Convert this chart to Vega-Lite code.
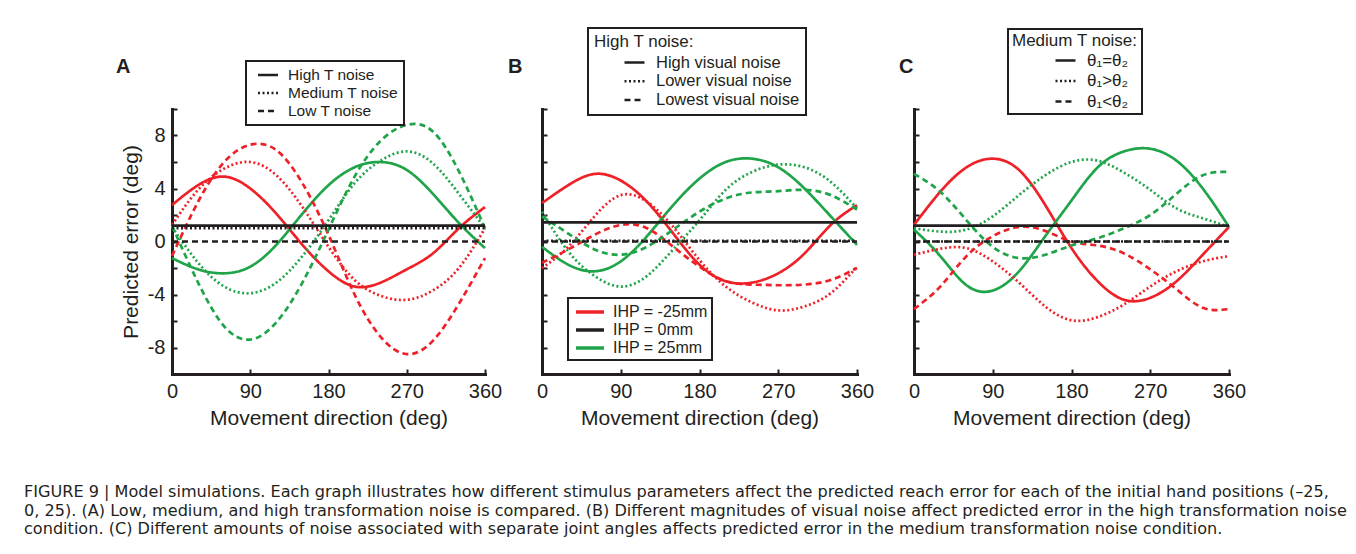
{
  "$schema": "https://vega.github.io/schema/vega-lite/v6.json",
  "padding": {"left": 24, "top": 27, "right": 5, "bottom": 5},
  "background": "white",
  "datasets": {
    "A": [
      {"c":"IHP = -25mm","s":"High T noise","d":0,"e":2.75},{"c":"IHP = -25mm","s":"High T noise","d":30,"e":4.25},{"c":"IHP = -25mm","s":"High T noise","d":60,"e":4.9},{"c":"IHP = -25mm","s":"High T noise","d":90,"e":4.0},{"c":"IHP = -25mm","s":"High T noise","d":120,"e":2.1},{"c":"IHP = -25mm","s":"High T noise","d":150,"e":-0.25},{"c":"IHP = -25mm","s":"High T noise","d":180,"e":-2.25},{"c":"IHP = -25mm","s":"High T noise","d":210,"e":-3.4},{"c":"IHP = -25mm","s":"High T noise","d":240,"e":-3.1},{"c":"IHP = -25mm","s":"High T noise","d":270,"e":-2.1},{"c":"IHP = -25mm","s":"High T noise","d":300,"e":-0.9},{"c":"IHP = -25mm","s":"High T noise","d":330,"e":1.0},{"c":"IHP = -25mm","s":"High T noise","d":360,"e":2.6},
      {"c":"IHP = 25mm","s":"High T noise","d":0,"e":-1.25},{"c":"IHP = 25mm","s":"High T noise","d":30,"e":-2.1},{"c":"IHP = 25mm","s":"High T noise","d":60,"e":-2.4},{"c":"IHP = 25mm","s":"High T noise","d":90,"e":-1.9},{"c":"IHP = 25mm","s":"High T noise","d":120,"e":-0.25},{"c":"IHP = 25mm","s":"High T noise","d":150,"e":2.1},{"c":"IHP = 25mm","s":"High T noise","d":180,"e":4.25},{"c":"IHP = 25mm","s":"High T noise","d":210,"e":5.6},{"c":"IHP = 25mm","s":"High T noise","d":240,"e":6.0},{"c":"IHP = 25mm","s":"High T noise","d":270,"e":5.4},{"c":"IHP = 25mm","s":"High T noise","d":300,"e":3.6},{"c":"IHP = 25mm","s":"High T noise","d":330,"e":1.4},{"c":"IHP = 25mm","s":"High T noise","d":360,"e":-0.5},
      {"c":"IHP = -25mm","s":"Medium T noise","d":0,"e":1.25},{"c":"IHP = -25mm","s":"Medium T noise","d":30,"e":3.9},{"c":"IHP = -25mm","s":"Medium T noise","d":60,"e":5.5},{"c":"IHP = -25mm","s":"Medium T noise","d":90,"e":6.0},{"c":"IHP = -25mm","s":"Medium T noise","d":120,"e":5.0},{"c":"IHP = -25mm","s":"Medium T noise","d":150,"e":2.6},{"c":"IHP = -25mm","s":"Medium T noise","d":180,"e":-0.4},{"c":"IHP = -25mm","s":"Medium T noise","d":210,"e":-2.9},{"c":"IHP = -25mm","s":"Medium T noise","d":240,"e":-4.1},{"c":"IHP = -25mm","s":"Medium T noise","d":270,"e":-4.4},{"c":"IHP = -25mm","s":"Medium T noise","d":300,"e":-3.7},{"c":"IHP = -25mm","s":"Medium T noise","d":330,"e":-2.0},{"c":"IHP = -25mm","s":"Medium T noise","d":360,"e":1.0},
      {"c":"IHP = 25mm","s":"Medium T noise","d":0,"e":1.1},{"c":"IHP = 25mm","s":"Medium T noise","d":30,"e":-1.6},{"c":"IHP = 25mm","s":"Medium T noise","d":60,"e":-3.4},{"c":"IHP = 25mm","s":"Medium T noise","d":90,"e":-3.9},{"c":"IHP = 25mm","s":"Medium T noise","d":120,"e":-3.1},{"c":"IHP = 25mm","s":"Medium T noise","d":150,"e":-1.1},{"c":"IHP = 25mm","s":"Medium T noise","d":180,"e":1.6},{"c":"IHP = 25mm","s":"Medium T noise","d":210,"e":4.4},{"c":"IHP = 25mm","s":"Medium T noise","d":240,"e":6.1},{"c":"IHP = 25mm","s":"Medium T noise","d":270,"e":6.8},{"c":"IHP = 25mm","s":"Medium T noise","d":300,"e":5.9},{"c":"IHP = 25mm","s":"Medium T noise","d":330,"e":3.6},{"c":"IHP = 25mm","s":"Medium T noise","d":360,"e":1.0},
      {"c":"IHP = -25mm","s":"Low T noise","d":0,"e":-1.1},{"c":"IHP = -25mm","s":"Low T noise","d":30,"e":3.0},{"c":"IHP = -25mm","s":"Low T noise","d":60,"e":6.0},{"c":"IHP = -25mm","s":"Low T noise","d":90,"e":7.3},{"c":"IHP = -25mm","s":"Low T noise","d":120,"e":6.9},{"c":"IHP = -25mm","s":"Low T noise","d":150,"e":4.4},{"c":"IHP = -25mm","s":"Low T noise","d":180,"e":0.5},{"c":"IHP = -25mm","s":"Low T noise","d":210,"e":-4.0},{"c":"IHP = -25mm","s":"Low T noise","d":240,"e":-7.2},{"c":"IHP = -25mm","s":"Low T noise","d":270,"e":-8.5},{"c":"IHP = -25mm","s":"Low T noise","d":300,"e":-7.5},{"c":"IHP = -25mm","s":"Low T noise","d":330,"e":-4.7},{"c":"IHP = -25mm","s":"Low T noise","d":360,"e":-1.25},
      {"c":"IHP = 25mm","s":"Low T noise","d":0,"e":1.2},{"c":"IHP = 25mm","s":"Low T noise","d":30,"e":-3.1},{"c":"IHP = 25mm","s":"Low T noise","d":60,"e":-6.4},{"c":"IHP = 25mm","s":"Low T noise","d":90,"e":-7.4},{"c":"IHP = 25mm","s":"Low T noise","d":120,"e":-6.1},{"c":"IHP = 25mm","s":"Low T noise","d":150,"e":-3.1},{"c":"IHP = 25mm","s":"Low T noise","d":180,"e":0.9},{"c":"IHP = 25mm","s":"Low T noise","d":210,"e":4.9},{"c":"IHP = 25mm","s":"Low T noise","d":240,"e":7.6},{"c":"IHP = 25mm","s":"Low T noise","d":270,"e":8.8},{"c":"IHP = 25mm","s":"Low T noise","d":300,"e":8.3},{"c":"IHP = 25mm","s":"Low T noise","d":330,"e":5.3},{"c":"IHP = 25mm","s":"Low T noise","d":360,"e":1.0},
      {"c":"IHP = 0mm","s":"High T noise","d":0,"e":1.2},{"c":"IHP = 0mm","s":"High T noise","d":360,"e":1.2},
      {"c":"IHP = 0mm","s":"Medium T noise","d":0,"e":1.0},{"c":"IHP = 0mm","s":"Medium T noise","d":360,"e":1.0},
      {"c":"IHP = 0mm","s":"Low T noise","d":0,"e":0},{"c":"IHP = 0mm","s":"Low T noise","d":360,"e":0}
    ],
    "B": [
      {"c":"IHP = -25mm","s":"High visual noise","d":0,"e":2.9},{"c":"IHP = -25mm","s":"High visual noise","d":30,"e":4.25},{"c":"IHP = -25mm","s":"High visual noise","d":60,"e":5.1},{"c":"IHP = -25mm","s":"High visual noise","d":90,"e":4.6},{"c":"IHP = -25mm","s":"High visual noise","d":120,"e":3.0},{"c":"IHP = -25mm","s":"High visual noise","d":150,"e":0.6},{"c":"IHP = -25mm","s":"High visual noise","d":180,"e":-1.75},{"c":"IHP = -25mm","s":"High visual noise","d":210,"e":-3.0},{"c":"IHP = -25mm","s":"High visual noise","d":240,"e":-3.1},{"c":"IHP = -25mm","s":"High visual noise","d":270,"e":-2.4},{"c":"IHP = -25mm","s":"High visual noise","d":300,"e":-0.9},{"c":"IHP = -25mm","s":"High visual noise","d":330,"e":1.25},{"c":"IHP = -25mm","s":"High visual noise","d":360,"e":2.75},
      {"c":"IHP = 25mm","s":"High visual noise","d":0,"e":-0.4},{"c":"IHP = 25mm","s":"High visual noise","d":30,"e":-1.75},{"c":"IHP = 25mm","s":"High visual noise","d":60,"e":-2.25},{"c":"IHP = 25mm","s":"High visual noise","d":90,"e":-1.5},{"c":"IHP = 25mm","s":"High visual noise","d":120,"e":0.4},{"c":"IHP = 25mm","s":"High visual noise","d":150,"e":2.75},{"c":"IHP = 25mm","s":"High visual noise","d":180,"e":4.75},{"c":"IHP = 25mm","s":"High visual noise","d":210,"e":6.0},{"c":"IHP = 25mm","s":"High visual noise","d":240,"e":6.25},{"c":"IHP = 25mm","s":"High visual noise","d":270,"e":5.6},{"c":"IHP = 25mm","s":"High visual noise","d":300,"e":4.0},{"c":"IHP = 25mm","s":"High visual noise","d":330,"e":1.9},{"c":"IHP = 25mm","s":"High visual noise","d":360,"e":-0.25},
      {"c":"IHP = -25mm","s":"Lower visual noise","d":0,"e":-2.0},{"c":"IHP = -25mm","s":"Lower visual noise","d":30,"e":-0.4},{"c":"IHP = -25mm","s":"Lower visual noise","d":60,"e":1.9},{"c":"IHP = -25mm","s":"Lower visual noise","d":90,"e":3.5},{"c":"IHP = -25mm","s":"Lower visual noise","d":120,"e":3.0},{"c":"IHP = -25mm","s":"Lower visual noise","d":150,"e":1.1},{"c":"IHP = -25mm","s":"Lower visual noise","d":180,"e":-1.4},{"c":"IHP = -25mm","s":"Lower visual noise","d":210,"e":-3.4},{"c":"IHP = -25mm","s":"Lower visual noise","d":240,"e":-4.6},{"c":"IHP = -25mm","s":"Lower visual noise","d":270,"e":-5.2},{"c":"IHP = -25mm","s":"Lower visual noise","d":300,"e":-4.9},{"c":"IHP = -25mm","s":"Lower visual noise","d":330,"e":-3.9},{"c":"IHP = -25mm","s":"Lower visual noise","d":360,"e":-1.9},
      {"c":"IHP = 25mm","s":"Lower visual noise","d":0,"e":2.25},{"c":"IHP = 25mm","s":"Lower visual noise","d":30,"e":-0.75},{"c":"IHP = 25mm","s":"Lower visual noise","d":60,"e":-2.6},{"c":"IHP = 25mm","s":"Lower visual noise","d":90,"e":-3.4},{"c":"IHP = 25mm","s":"Lower visual noise","d":120,"e":-2.6},{"c":"IHP = 25mm","s":"Lower visual noise","d":150,"e":-0.6},{"c":"IHP = 25mm","s":"Lower visual noise","d":180,"e":1.6},{"c":"IHP = 25mm","s":"Lower visual noise","d":210,"e":3.9},{"c":"IHP = 25mm","s":"Lower visual noise","d":240,"e":5.25},{"c":"IHP = 25mm","s":"Lower visual noise","d":270,"e":5.8},{"c":"IHP = 25mm","s":"Lower visual noise","d":300,"e":5.6},{"c":"IHP = 25mm","s":"Lower visual noise","d":330,"e":4.5},{"c":"IHP = 25mm","s":"Lower visual noise","d":360,"e":2.5},
      {"c":"IHP = -25mm","s":"Lowest visual noise","d":0,"e":-1.6},{"c":"IHP = -25mm","s":"Lowest visual noise","d":30,"e":-0.6},{"c":"IHP = -25mm","s":"Lowest visual noise","d":60,"e":0.5},{"c":"IHP = -25mm","s":"Lowest visual noise","d":90,"e":1.25},{"c":"IHP = -25mm","s":"Lowest visual noise","d":120,"e":1.0},{"c":"IHP = -25mm","s":"Lowest visual noise","d":150,"e":-0.4},{"c":"IHP = -25mm","s":"Lowest visual noise","d":180,"e":-1.9},{"c":"IHP = -25mm","s":"Lowest visual noise","d":210,"e":-3.0},{"c":"IHP = -25mm","s":"Lowest visual noise","d":240,"e":-3.25},{"c":"IHP = -25mm","s":"Lowest visual noise","d":270,"e":-3.3},{"c":"IHP = -25mm","s":"Lowest visual noise","d":300,"e":-3.25},{"c":"IHP = -25mm","s":"Lowest visual noise","d":330,"e":-2.9},{"c":"IHP = -25mm","s":"Lowest visual noise","d":360,"e":-2.0},
      {"c":"IHP = 25mm","s":"Lowest visual noise","d":0,"e":1.9},{"c":"IHP = 25mm","s":"Lowest visual noise","d":30,"e":0.6},{"c":"IHP = 25mm","s":"Lowest visual noise","d":60,"e":-0.6},{"c":"IHP = 25mm","s":"Lowest visual noise","d":90,"e":-1.0},{"c":"IHP = 25mm","s":"Lowest visual noise","d":120,"e":-0.4},{"c":"IHP = 25mm","s":"Lowest visual noise","d":150,"e":0.9},{"c":"IHP = 25mm","s":"Lowest visual noise","d":180,"e":2.25},{"c":"IHP = 25mm","s":"Lowest visual noise","d":210,"e":3.25},{"c":"IHP = 25mm","s":"Lowest visual noise","d":240,"e":3.7},{"c":"IHP = 25mm","s":"Lowest visual noise","d":270,"e":3.8},{"c":"IHP = 25mm","s":"Lowest visual noise","d":300,"e":3.9},{"c":"IHP = 25mm","s":"Lowest visual noise","d":330,"e":3.5},{"c":"IHP = 25mm","s":"Lowest visual noise","d":360,"e":2.4},
      {"c":"IHP = 0mm","s":"High visual noise","d":0,"e":1.45},{"c":"IHP = 0mm","s":"High visual noise","d":360,"e":1.45},
      {"c":"IHP = 0mm","s":"Lower visual noise","d":0,"e":0.05},{"c":"IHP = 0mm","s":"Lower visual noise","d":360,"e":0.05},
      {"c":"IHP = 0mm","s":"Lowest visual noise","d":0,"e":0},{"c":"IHP = 0mm","s":"Lowest visual noise","d":360,"e":0}
    ],
    "C": [
      {"c":"IHP = -25mm","s":"θ₁=θ₂","d":0,"e":1.25},{"c":"IHP = -25mm","s":"θ₁=θ₂","d":30,"e":3.75},{"c":"IHP = -25mm","s":"θ₁=θ₂","d":60,"e":5.6},{"c":"IHP = -25mm","s":"θ₁=θ₂","d":90,"e":6.25},{"c":"IHP = -25mm","s":"θ₁=θ₂","d":120,"e":5.4},{"c":"IHP = -25mm","s":"θ₁=θ₂","d":150,"e":2.75},{"c":"IHP = -25mm","s":"θ₁=θ₂","d":180,"e":-0.5},{"c":"IHP = -25mm","s":"θ₁=θ₂","d":210,"e":-3.0},{"c":"IHP = -25mm","s":"θ₁=θ₂","d":240,"e":-4.4},{"c":"IHP = -25mm","s":"θ₁=θ₂","d":270,"e":-4.25},{"c":"IHP = -25mm","s":"θ₁=θ₂","d":300,"e":-3.0},{"c":"IHP = -25mm","s":"θ₁=θ₂","d":330,"e":-1.0},{"c":"IHP = -25mm","s":"θ₁=θ₂","d":360,"e":1.1},
      {"c":"IHP = 25mm","s":"θ₁=θ₂","d":0,"e":0.9},{"c":"IHP = 25mm","s":"θ₁=θ₂","d":30,"e":-1.1},{"c":"IHP = 25mm","s":"θ₁=θ₂","d":60,"e":-3.3},{"c":"IHP = 25mm","s":"θ₁=θ₂","d":90,"e":-3.7},{"c":"IHP = 25mm","s":"θ₁=θ₂","d":120,"e":-2.25},{"c":"IHP = 25mm","s":"θ₁=θ₂","d":150,"e":0.4},{"c":"IHP = 25mm","s":"θ₁=θ₂","d":180,"e":3.1},{"c":"IHP = 25mm","s":"θ₁=θ₂","d":210,"e":5.6},{"c":"IHP = 25mm","s":"θ₁=θ₂","d":240,"e":6.8},{"c":"IHP = 25mm","s":"θ₁=θ₂","d":270,"e":7.0},{"c":"IHP = 25mm","s":"θ₁=θ₂","d":300,"e":6.1},{"c":"IHP = 25mm","s":"θ₁=θ₂","d":330,"e":4.0},{"c":"IHP = 25mm","s":"θ₁=θ₂","d":360,"e":1.1},
      {"c":"IHP = -25mm","s":"θ₁>θ₂","d":0,"e":-1.0},{"c":"IHP = -25mm","s":"θ₁>θ₂","d":30,"e":-0.55},{"c":"IHP = -25mm","s":"θ₁>θ₂","d":60,"e":-0.5},{"c":"IHP = -25mm","s":"θ₁>θ₂","d":90,"e":-1.5},{"c":"IHP = -25mm","s":"θ₁>θ₂","d":120,"e":-3.1},{"c":"IHP = -25mm","s":"θ₁>θ₂","d":150,"e":-4.9},{"c":"IHP = -25mm","s":"θ₁>θ₂","d":180,"e":-5.95},{"c":"IHP = -25mm","s":"θ₁>θ₂","d":210,"e":-5.7},{"c":"IHP = -25mm","s":"θ₁>θ₂","d":240,"e":-4.75},{"c":"IHP = -25mm","s":"θ₁>θ₂","d":270,"e":-3.4},{"c":"IHP = -25mm","s":"θ₁>θ₂","d":300,"e":-2.25},{"c":"IHP = -25mm","s":"θ₁>θ₂","d":330,"e":-1.5},{"c":"IHP = -25mm","s":"θ₁>θ₂","d":360,"e":-1.1},
      {"c":"IHP = 25mm","s":"θ₁>θ₂","d":0,"e":1.0},{"c":"IHP = 25mm","s":"θ₁>θ₂","d":30,"e":0.75},{"c":"IHP = 25mm","s":"θ₁>θ₂","d":60,"e":0.9},{"c":"IHP = 25mm","s":"θ₁>θ₂","d":90,"e":1.9},{"c":"IHP = 25mm","s":"θ₁>θ₂","d":120,"e":3.5},{"c":"IHP = 25mm","s":"θ₁>θ₂","d":150,"e":5.0},{"c":"IHP = 25mm","s":"θ₁>θ₂","d":180,"e":6.0},{"c":"IHP = 25mm","s":"θ₁>θ₂","d":210,"e":6.1},{"c":"IHP = 25mm","s":"θ₁>θ₂","d":240,"e":5.2},{"c":"IHP = 25mm","s":"θ₁>θ₂","d":270,"e":3.9},{"c":"IHP = 25mm","s":"θ₁>θ₂","d":300,"e":2.5},{"c":"IHP = 25mm","s":"θ₁>θ₂","d":330,"e":1.75},{"c":"IHP = 25mm","s":"θ₁>θ₂","d":360,"e":1.1},
      {"c":"IHP = -25mm","s":"θ₁<θ₂","d":0,"e":-5.1},{"c":"IHP = -25mm","s":"θ₁<θ₂","d":30,"e":-3.4},{"c":"IHP = -25mm","s":"θ₁<θ₂","d":60,"e":-1.1},{"c":"IHP = -25mm","s":"θ₁<θ₂","d":90,"e":0.4},{"c":"IHP = -25mm","s":"θ₁<θ₂","d":120,"e":1.1},{"c":"IHP = -25mm","s":"θ₁<θ₂","d":150,"e":0.8},{"c":"IHP = -25mm","s":"θ₁<θ₂","d":180,"e":0},{"c":"IHP = -25mm","s":"θ₁<θ₂","d":210,"e":-0.3},{"c":"IHP = -25mm","s":"θ₁<θ₂","d":240,"e":-0.9},{"c":"IHP = -25mm","s":"θ₁<θ₂","d":270,"e":-2.1},{"c":"IHP = -25mm","s":"θ₁<θ₂","d":300,"e":-3.6},{"c":"IHP = -25mm","s":"θ₁<θ₂","d":330,"e":-5.0},{"c":"IHP = -25mm","s":"θ₁<θ₂","d":360,"e":-5.1},
      {"c":"IHP = 25mm","s":"θ₁<θ₂","d":0,"e":5.1},{"c":"IHP = 25mm","s":"θ₁<θ₂","d":30,"e":3.75},{"c":"IHP = 25mm","s":"θ₁<θ₂","d":60,"e":1.6},{"c":"IHP = 25mm","s":"θ₁<θ₂","d":90,"e":-0.4},{"c":"IHP = 25mm","s":"θ₁<θ₂","d":120,"e":-1.25},{"c":"IHP = 25mm","s":"θ₁<θ₂","d":150,"e":-1.0},{"c":"IHP = 25mm","s":"θ₁<θ₂","d":180,"e":-0.3},{"c":"IHP = 25mm","s":"θ₁<θ₂","d":210,"e":0.25},{"c":"IHP = 25mm","s":"θ₁<θ₂","d":240,"e":1.0},{"c":"IHP = 25mm","s":"θ₁<θ₂","d":270,"e":2.0},{"c":"IHP = 25mm","s":"θ₁<θ₂","d":300,"e":3.6},{"c":"IHP = 25mm","s":"θ₁<θ₂","d":330,"e":5.0},{"c":"IHP = 25mm","s":"θ₁<θ₂","d":360,"e":5.25},
      {"c":"IHP = 0mm","s":"θ₁=θ₂","d":0,"e":1.2},{"c":"IHP = 0mm","s":"θ₁=θ₂","d":360,"e":1.2},
      {"c":"IHP = 0mm","s":"θ₁>θ₂","d":0,"e":0},{"c":"IHP = 0mm","s":"θ₁>θ₂","d":360,"e":0},
      {"c":"IHP = 0mm","s":"θ₁<θ₂","d":0,"e":0},{"c":"IHP = 0mm","s":"θ₁<θ₂","d":360,"e":0}
    ]
  },
  "title": {
    "text": [
      "FIGURE 9 | Model simulations. Each graph illustrates how different stimulus parameters affect the predicted reach error for each of the initial hand positions (–25,",
      "0, 25). (A) Low, medium, and high transformation noise is compared. (B) Different magnitudes of visual noise affect predicted error in the high transformation noise",
      "condition. (C) Different amounts of noise associated with separate joint angles affects predicted error in the medium transformation noise condition."
    ],
    "orient": "bottom",
    "anchor": "start",
    "baseline": "top",
    "offset": 56,
    "dx": -92,
    "fontSize": 16.1,
    "fontWeight": "normal",
    "lineHeight": 18.5,
    "font": "DejaVu Sans",
    "color": "#231f20"
  },
  "hconcat": [
    {
      "width": 313,
      "height": 265,
      "data": {"name": "A"},
      "title": {"text": "A", "anchor": "start", "frame": "group", "dx": -56, "offset": -17, "fontSize": 20, "fontWeight": "bold", "font": "Liberation Sans", "color": "#231f20"},
      "mark": {"type": "line", "interpolate": "natural", "strokeWidth": 2.7},
      "encoding": {
        "x": {"field": "d", "type": "quantitative", "scale": {"domain": [0, 360], "nice": false}, "axis": {"values": [0, 90, 180, 270, 360], "title": "Movement direction (deg)"}},
        "y": {"field": "e", "type": "quantitative", "scale": {"domain": [-10, 10], "nice": false}, "axis": {"values": [-10, -8, -6, -4, -2, 0, 2, 4, 6, 8, 10], "labelExpr": "datum.value % 4 === 0 ? (datum.value < 0 ? '-' + abs(datum.value) : '' + datum.value) : ''", "title": "Predicted error (deg)"}},
        "color": {"field": "c", "type": "nominal", "scale": {"domain": ["IHP = -25mm", "IHP = 0mm", "IHP = 25mm"], "range": ["#ee2128", "#231f20", "#20a44a"]}, "legend": null},
        "strokeDash": {"field": "s", "type": "nominal", "scale": {"domain": ["High T noise", "Medium T noise", "Low T noise"], "range": [[1, 0], [2, 2.5], [6, 4]]},
          "legend": {"orient": "none", "legendX": 74, "legendY": -48, "title": null, "labelFontSize": 15.5, "symbolType": "M-1.33,0H1.33", "symbolSize": 225, "symbolStrokeWidth": 2.5, "symbolStrokeColor": "#231f20", "padding": 5, "rowPadding": 0, "labelOffset": 11, "symbolOffset": 8}}
      }
    },
    {
      "width": 315,
      "height": 265,
      "data": {"name": "B"},
      "title": {"text": "B", "anchor": "start", "frame": "group", "dx": -34, "offset": -50, "fontSize": 20, "fontWeight": "bold", "font": "Liberation Sans", "color": "#231f20"},
      "mark": {"type": "line", "interpolate": "natural", "strokeWidth": 2.7},
      "encoding": {
        "x": {"field": "d", "type": "quantitative", "scale": {"domain": [0, 360], "nice": false}, "axis": {"values": [0, 90, 180, 270, 360], "title": "Movement direction (deg)"}},
        "y": {"field": "e", "type": "quantitative", "scale": {"domain": [-10, 10], "nice": false}, "axis": {"values": [-10, -8, -6, -4, -2, 0, 2, 4, 6, 8, 10], "labels": false, "title": null}},
        "color": {"field": "c", "type": "nominal", "scale": {"domain": ["IHP = -25mm", "IHP = 0mm", "IHP = 25mm"], "range": ["#ee2128", "#231f20", "#20a44a"]},
          "legend": {"orient": "none", "legendX": 26, "legendY": 189, "title": null, "labelFontSize": 16, "symbolType": "M-1.75,0H1.75", "symbolSize": 256, "symbolStrokeWidth": 3.5, "padding": 4, "rowPadding": 0, "labelOffset": 13, "symbolOffset": 8}},
        "strokeDash": {"field": "s", "type": "nominal", "scale": {"domain": ["High visual noise", "Lower visual noise", "Lowest visual noise"], "range": [[1, 0], [2, 2.5], [6, 4]]},
          "legend": {"orient": "none", "legendX": 46, "legendY": -81, "title": "High T noise:", "titleFontSize": 17, "labelFontSize": 16.5, "symbolType": "M-1.25,0H1.25", "symbolSize": 256, "symbolStrokeWidth": 2.5, "symbolStrokeColor": "#231f20", "padding": 6, "rowPadding": 0.8, "labelOffset": 12, "symbolOffset": 31, "titlePadding": 2}}
      }
    },
    {
      "width": 315,
      "height": 265,
      "data": {"name": "C"},
      "title": {"text": "C", "anchor": "start", "frame": "group", "dx": -15, "offset": -49, "fontSize": 20, "fontWeight": "bold", "font": "Liberation Sans", "color": "#231f20"},
      "mark": {"type": "line", "interpolate": "natural", "strokeWidth": 2.7},
      "encoding": {
        "x": {"field": "d", "type": "quantitative", "scale": {"domain": [0, 360], "nice": false}, "axis": {"values": [0, 90, 180, 270, 360], "title": "Movement direction (deg)"}},
        "y": {"field": "e", "type": "quantitative", "scale": {"domain": [-10, 10], "nice": false}, "axis": {"values": [-10, -8, -6, -4, -2, 0, 2, 4, 6, 8, 10], "labels": false, "title": null}},
        "color": {"field": "c", "type": "nominal", "scale": {"domain": ["IHP = -25mm", "IHP = 0mm", "IHP = 25mm"], "range": ["#ee2128", "#231f20", "#20a44a"]}, "legend": null},
        "strokeDash": {"field": "s", "type": "nominal", "scale": {"domain": ["θ₁=θ₂", "θ₁>θ₂", "θ₁<θ₂"], "range": [[1, 0], [2, 2.5], [6, 4]]},
          "legend": {"orient": "none", "legendX": 94, "legendY": -80, "title": "Medium T noise:", "titleFontSize": 17, "labelFontSize": 17, "symbolType": "M-1.25,0H1.25", "symbolSize": 256, "symbolStrokeWidth": 2.5, "symbolStrokeColor": "#231f20", "padding": 4, "rowPadding": 2.5, "labelOffset": 12, "symbolOffset": 44, "titlePadding": 1}}
      }
    }
  ],
  "spacing": 57,
  "bounds": "flush",
  "resolve": {"scale": {"color": "independent", "strokeDash": "independent"}, "legend": {"color": "independent", "strokeDash": "independent"}},
  "config": {
    "font": "Liberation Sans",
    "view": {"stroke": null},
    "axis": {"grid": false, "domainColor": "#231f20", "domainWidth": 3, "domainCap": "square", "tickColor": "#231f20", "tickWidth": 2, "tickSize": -5, "labelPadding": 12, "labelFlush": false, "labelFont": "Liberation Sans", "labelFontSize": 20, "labelColor": "#231f20", "titleFont": "Liberation Sans", "titleFontSize": 21, "titleFontWeight": "normal", "titleColor": "#231f20", "titlePadding": 6},
    "legend": {"labelFont": "Liberation Sans", "titleFont": "Liberation Sans", "labelColor": "#231f20", "titleColor": "#231f20", "titleFontWeight": "normal", "strokeColor": "#231f20", "strokeWidth": 2, "fillColor": "white", "symbolFillColor": "transparent", "labelLimit": 300}
  }
}
